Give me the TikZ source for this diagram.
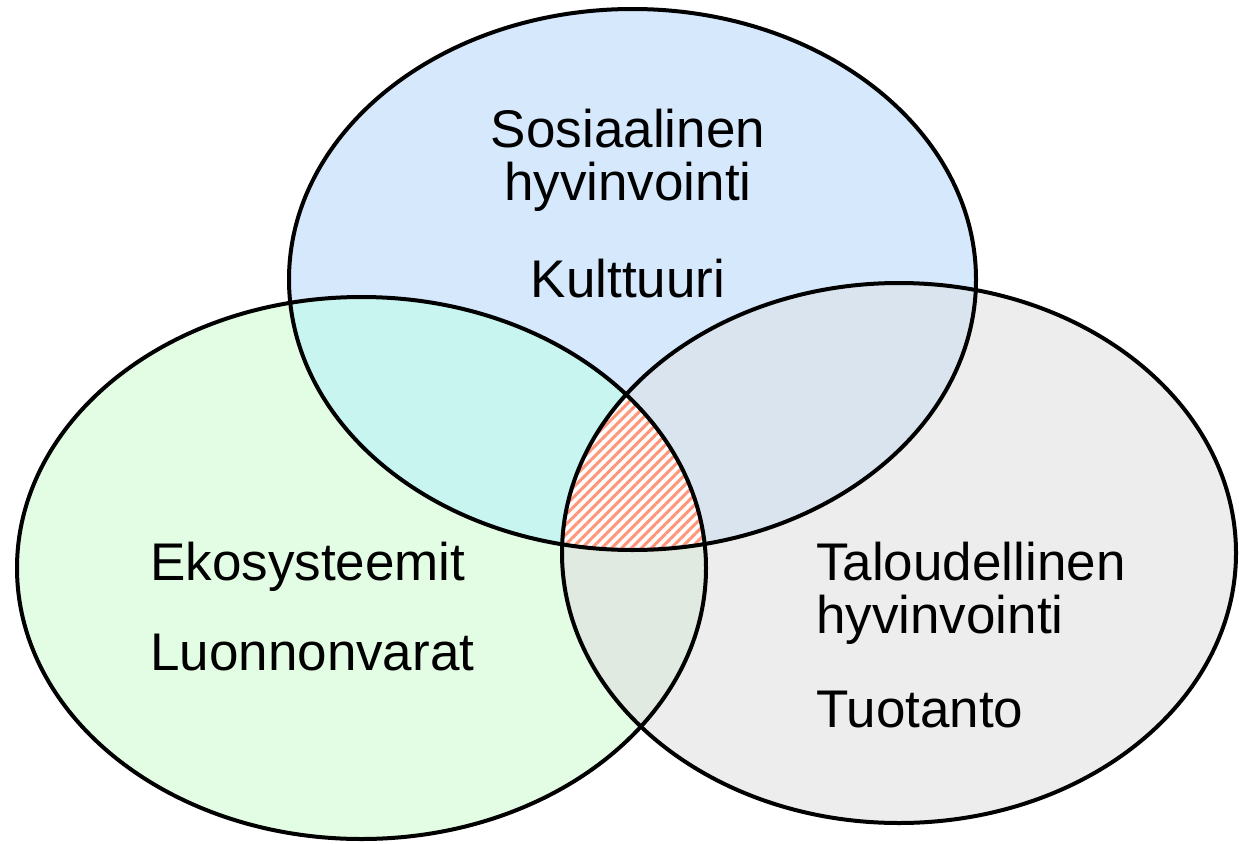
\documentclass[tikz,border=0pt]{standalone}
\usepackage{fontspec}
\setmainfont{Liberation Sans}
\usetikzlibrary{patterns.meta}

\definecolor{socfill}{RGB}{214,232,252}
\definecolor{ecofill}{RGB}{227,252,228}
\definecolor{econfill}{RGB}{237,237,237}
\definecolor{socecofill}{RGB}{201,245,240}
\definecolor{soceconfill}{RGB}{217,228,238}
\definecolor{ecoeconfill}{RGB}{224,234,224}
\definecolor{hatchred}{RGB}{255,150,122}

\begin{document}
\begin{tikzpicture}[x=1pt,y=-1pt,
  circletext/.style={font=\fontsize{53}{57}\selectfont, inner sep=0pt},
  rim/.style={draw=black, line width=4pt}]
\useasboundingbox (0,0) rectangle (1239,843);

% the three sets
\def\socE{(632.5,279.5) ellipse [x radius=343.5pt, y radius=270.5pt]}
\def\ecoE{(361.5,568) ellipse [x radius=344.5pt, y radius=271pt]}
\def\econE{(899,553) ellipse [x radius=337pt, y radius=270pt]}

% base fills
\fill[socfill] \socE;
\fill[ecofill] \ecoE;
\fill[econfill] \econE;

% pairwise overlaps
\begin{scope}
  \clip \socE;
  \fill[socecofill] \ecoE;
  \fill[soceconfill] \econE;
\end{scope}
\begin{scope}
  \clip \ecoE;
  \fill[ecoeconfill] \econE;
\end{scope}

% common core, hatched
\begin{scope}
  \clip \socE;
  \clip \ecoE;
  \fill[white] \econE;
  \pattern[pattern={Lines[angle=45,distance=7pt,line width=3pt]}, pattern color=hatchred] \econE;
\end{scope}

% outlines
\draw[rim] \socE;
\draw[rim] \ecoE;
\draw[rim] \econE;

% labels
\node[circletext, anchor=base] (soc1) at (628,147) {Sosiaalinen};
\node[circletext, anchor=base] (soc2) at (628,200) {hyvinvointi};
\node[circletext, anchor=base] (soc3) at (628,297) {Kulttuuri};

\node[circletext, anchor=base west] (eco1) at (150,580) {Ekosysteemit};
\node[circletext, anchor=base west] (eco2) at (150,670) {Luonnonvarat};

\node[circletext, anchor=base west] (econ1) at (816,580) {Taloudellinen};
\node[circletext, anchor=base west] (econ2) at (816,633) {hyvinvointi};
\node[circletext, anchor=base west] (econ3) at (816,727) {Tuotanto};
\end{tikzpicture}
\end{document}
